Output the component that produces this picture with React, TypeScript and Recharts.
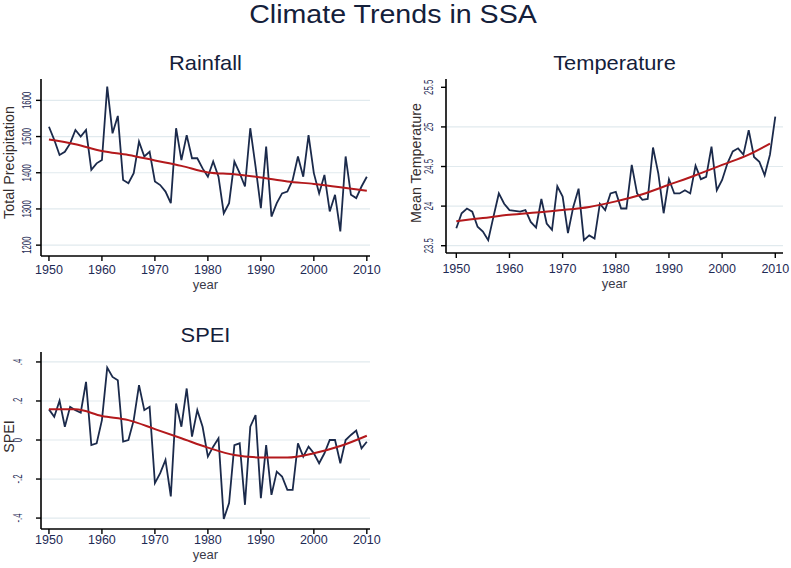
import React from 'react';
import { LineChart, Line, XAxis, YAxis, CartesianGrid, Label } from 'recharts';

const years = [
  1950, 1951, 1952, 1953, 1954, 1955, 1956, 1957, 1958, 1959,
  1960, 1961, 1962, 1963, 1964, 1965, 1966, 1967, 1968, 1969,
  1970, 1971, 1972, 1973, 1974, 1975, 1976, 1977, 1978, 1979,
  1980, 1981, 1982, 1983, 1984, 1985, 1986, 1987, 1988, 1989,
  1990, 1991, 1992, 1993, 1994, 1995, 1996, 1997, 1998, 1999,
  2000, 2001, 2002, 2003, 2004, 2005, 2006, 2007, 2008, 2009, 2010,
];

const rainfall = [
  1527, 1491, 1449, 1458, 1481, 1518, 1500, 1518, 1408, 1426,
  1435, 1638, 1509, 1557, 1380, 1371, 1399, 1486, 1445, 1458,
  1376, 1366, 1348, 1316, 1523, 1435, 1504, 1440, 1440, 1412,
  1389, 1431, 1389, 1288, 1316, 1431, 1399, 1362, 1523, 1417,
  1302, 1472, 1279, 1316, 1343, 1348, 1380, 1445, 1389, 1504,
  1399, 1343, 1394, 1293, 1339, 1238, 1445, 1339, 1330, 1362, 1389,
];

const temperature = [
  23.72, 23.91, 23.97, 23.93, 23.74, 23.68, 23.57, 23.87, 24.16, 24.03,
  23.95, 23.94, 23.93, 23.95, 23.8, 23.73, 24.09, 23.78, 23.7, 24.25,
  24.12, 23.66, 23.99, 24.22, 23.57, 23.63, 23.59, 24.03, 23.95, 24.16,
  24.18, 23.97, 23.97, 24.52, 24.16, 24.08, 24.09, 24.74, 24.41, 23.91,
  24.34, 24.16, 24.16, 24.2, 24.16, 24.51, 24.34, 24.37, 24.75, 24.2,
  24.33, 24.54, 24.69, 24.73, 24.65, 24.96, 24.62, 24.56, 24.39, 24.65, 25.13,
];

const spei = [
  0.157, 0.119, 0.201, 0.068, 0.17, 0.153, 0.14, 0.298, -0.026, -0.017,
  0.102, 0.371, 0.323, 0.306, -0.008, 0, 0.102, 0.281, 0.153, 0.17,
  -0.221, -0.17, -0.102, -0.289, 0.187, 0.068, 0.264, 0.017, 0.153, 0.068,
  -0.085, -0.034, 0.009, -0.405, -0.323, -0.026, -0.017, -0.332, 0.068, 0.128,
  -0.298, -0.026, -0.281, -0.162, -0.187, -0.255, -0.255, -0.017, -0.085, -0.034,
  -0.068, -0.119, -0.068, 0, 0, -0.119, 0, 0.026, 0.048, -0.043, -0.009,
];

// fitted trend, read at 5-year points
const rainTrendYears = [1950, 1955, 1960, 1965, 1970, 1975, 1980, 1985, 1990, 1995, 2000, 2005, 2010];
const rainTrend = [1492, 1479, 1460, 1449, 1434, 1419, 1401, 1396, 1387, 1376, 1369, 1360, 1350];

const tempTrendYears = [1950, 1955, 1960, 1965, 1970, 1975, 1980, 1985, 1990, 1995, 2000, 2005, 2009];
const tempTrend = [23.81, 23.85, 23.89, 23.92, 23.95, 23.99, 24.06, 24.15, 24.27, 24.39, 24.52, 24.65, 24.79];

const speiTrendYears = [1950, 1955, 1960, 1965, 1970, 1975, 1980, 1985, 1990, 1995, 2000, 2005, 2010];
const speiTrend = [0.157, 0.157, 0.123, 0.102, 0.056, 0.009, -0.039, -0.077, -0.089, -0.09, -0.068, -0.031, 0.022];

const yearTicks = [1950, 1960, 1970, 1980, 1990, 2000, 2010];
const rainTicks = [1200, 1300, 1400, 1500, 1600];
const tempTicks = [23.5, 24, 24.5, 25, 25.5];
const speiTicks = [-0.4, -0.2, 0, 0.2, 0.4];

const FONT = '"Liberation Sans", Arial, sans-serif';
const NAVY = '#1b2a4b';
const RED = '#b3191c';
const TICK = '#1e2a55';
const TITLE = '#14203a';

const buildRows = (values: number[], trendYears: number[], trend: number[]) =>
  years.map((year, i) => {
    const k = trendYears.indexOf(year);
    return { year, value: values[i], trend: k >= 0 ? trend[k] : null };
  });

const speiFmt = (v: number) => {
  if (v === 0) return '0';
  const s = String(Math.abs(v)).replace(/^0/, '');
  return (v < 0 ? '-' : '') + s;
};

// stata draws the y labels turned on their side, and narrow
const RotatedTick = ({ x, y, payload, fmt }: any) => (
  <text
    transform={`translate(${x},${y}) rotate(-90) scale(0.6,1)`}
    textAnchor="middle"
    fontSize={13}
    fontFamily={FONT}
    fill={TICK}
  >
    {fmt(payload.value)}
  </text>
);

interface PanelProps {
  left: number;
  top: number;
  width: number;
  height: number;
  margin: { top: number; right: number; bottom: number; left: number };
  yWidth: number;
  rows: any[];
  xDomain: [number, number];
  yDomain: [number, number];
  yTicks: number[];
  gridValues: number[];
  fmt: (v: number) => string;
  yTickMargin: number;
  xTickMargin: number;
  yTitle: string;
  yTitleGap: number;
  yTitleShift: number;
  yearGap: number;
  title: string;
  titleTop: number;
}

const Panel = (p: PanelProps) => {
  const plotLeft = p.margin.left + p.yWidth;
  const plotRight = p.width - p.margin.right;
  return (
    <div style={{ position: 'absolute', left: p.left, top: p.top, width: p.width, height: p.height }}>
      <div
        style={{
          position: 'absolute',
          left: plotLeft,
          width: plotRight - plotLeft,
          top: p.titleTop,
          textAlign: 'center',
          fontFamily: FONT,
          fontSize: 21,
          lineHeight: '21px',
          color: TITLE,
          transform: 'scaleX(1.04)',
        }}
      >
        {p.title}
      </div>
      <LineChart width={p.width} height={p.height} data={p.rows} margin={p.margin}>
        <CartesianGrid vertical={false} horizontalValues={p.gridValues} stroke="#e1eaee" strokeWidth={1.2} />
        <XAxis
          dataKey="year"
          type="number"
          domain={p.xDomain}
          ticks={yearTicks}
          allowDataOverflow
          height={30}
          tickSize={5}
          tickMargin={p.xTickMargin}
          axisLine={{ stroke: '#000', strokeWidth: 1.6 }}
          tickLine={{ stroke: '#000', strokeWidth: 1.4 }}
          tick={{ fill: TICK, fontSize: 12.5, fontFamily: FONT }}
        >
          <Label
            content={({ viewBox }: any) => (
              <text
                x={viewBox.x + viewBox.width / 2}
                y={viewBox.y + p.yearGap}
                textAnchor="middle"
                fontSize={13}
                fontFamily={FONT}
                fill="#3a3a48"
              >
                year
              </text>
            )}
          />
        </XAxis>
        <YAxis
          type="number"
          domain={p.yDomain}
          ticks={p.yTicks}
          allowDataOverflow
          width={p.yWidth}
          tickSize={5}
          tickMargin={p.yTickMargin}
          axisLine={{ stroke: '#000', strokeWidth: 1.6 }}
          tickLine={{ stroke: '#000', strokeWidth: 1.4 }}
          tick={(t: any) => <RotatedTick {...t} fmt={p.fmt} />}
        >
          <Label
            content={({ viewBox }: any) => {
              const cx = viewBox.x + viewBox.width - p.yTitleGap;
              const cy = viewBox.y + viewBox.height / 2 + p.yTitleShift;
              return (
                <text
                  transform={`translate(${cx},${cy}) rotate(-90)`}
                  textAnchor="middle"
                  fontSize={14.3}
                  fontFamily={FONT}
                  fill="#332c2c"
                >
                  {p.yTitle}
                </text>
              );
            }}
          />
        </YAxis>
        <Line
          type="linear"
          dataKey="value"
          stroke={NAVY}
          strokeWidth={1.8}
          dot={false}
          isAnimationActive={false}
        />
        <Line
          type="monotone"
          dataKey="trend"
          stroke={RED}
          strokeWidth={2}
          dot={false}
          connectNulls
          isAnimationActive={false}
        />
      </LineChart>
    </div>
  );
};

const App = () => {
  return (
    <div style={{ position: 'absolute', left: 0, top: 0, width: 791, height: 568, background: '#fff' }}>
      <div
        style={{
          position: 'absolute',
          left: 0,
          width: 786,
          top: 1,
          textAlign: 'center',
          fontFamily: FONT,
          fontSize: 26,
          lineHeight: '26px',
          color: TITLE,
          transform: 'scaleX(1.1)',
        }}
      >
        Climate Trends in SSA
      </div>
      <Panel
        left={0}
        top={40}
        width={390}
        height={260}
        margin={{ top: 39, right: 20, bottom: 14, left: 0 }}
        yWidth={41}
        rows={buildRows(rainfall, rainTrendYears, rainTrend)}
        xDomain={[1948.5, 2010.6]}
        yDomain={[1170, 1659]}
        yTicks={rainTicks}
        gridValues={rainTicks}
        fmt={(v) => String(v)}
        yTickMargin={5}
        xTickMargin={4}
        yTitle="Total Precipitation"
        yTitleGap={27}
        yTitleShift={-5}
        yearGap={32.5}
        title="Rainfall"
        titleTop={12}
      />
      <Panel
        left={390}
        top={40}
        width={400}
        height={260}
        margin={{ top: 39, right: 7, bottom: 17, left: 0 }}
        yWidth={56}
        rows={buildRows(temperature, tempTrendYears, tempTrend)}
        xDomain={[1948.06, 2011.45]}
        yDomain={[23.408, 25.605]}
        yTicks={tempTicks}
        gridValues={[23.5, 24, 24.5, 25]}
        fmt={(v) => String(v)}
        yTickMargin={8}
        xTickMargin={6}
        yTitle="Mean Temperature"
        yTitleGap={25}
        yTitleShift={-3}
        yearGap={34.5}
        title="Temperature"
        titleTop={12}
      />
      <Panel
        left={0}
        top={310}
        width={390}
        height={258}
        margin={{ top: 42, right: 20, bottom: 9, left: 0 }}
        yWidth={41}
        rows={buildRows(spei, speiTrendYears, speiTrend)}
        xDomain={[1948.5, 2010.6]}
        yDomain={[-0.456, 0.451]}
        yTicks={speiTicks}
        gridValues={speiTicks}
        fmt={speiFmt}
        yTickMargin={14}
        xTickMargin={1}
        yTitle="SPEI"
        yTitleGap={27}
        yTitleShift={-4}
        yearGap={30}
        title="SPEI"
        titleTop={14}
      />
    </div>
  );
};

export default App;
